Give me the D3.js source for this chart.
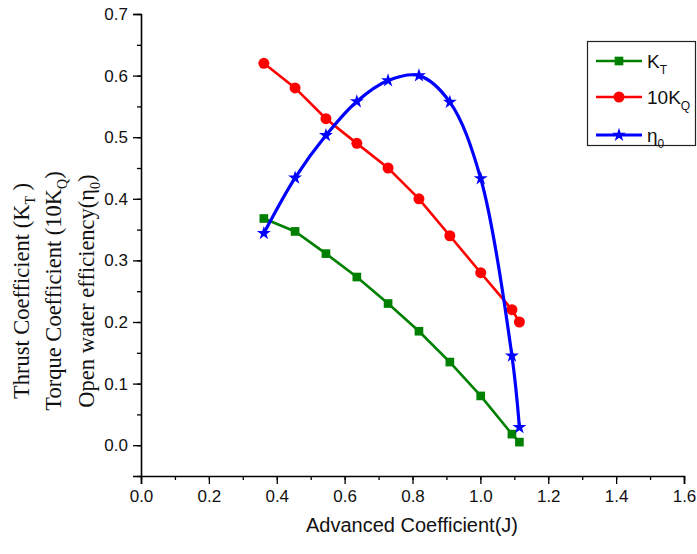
<!DOCTYPE html>
<html><head><meta charset="utf-8">
<script src="https://cdn.jsdelivr.net/npm/d3@7"></script>
<style>
body{margin:0;background:#fff;}
svg{display:block;}
</style></head>
<body>
<svg id="c" width="697" height="554"></svg>
<script>
const J      = [0.362, 0.454, 0.545, 0.636, 0.728, 0.819, 0.910, 1.001, 1.093, 1.115];
const KT     = [0.368, 0.347, 0.311, 0.273, 0.230, 0.185, 0.135, 0.080, 0.018, 0.005];
const KQ10   = [0.620, 0.580, 0.530, 0.490, 0.450, 0.400, 0.340, 0.280, 0.220, 0.200];
const ETA0   = [0.344, 0.434, 0.503, 0.558, 0.592, 0.600, 0.557, 0.433, 0.145, 0.029];
const xTicks = [0.0, 0.2, 0.4, 0.6, 0.8, 1.0, 1.2, 1.4, 1.6];
const yTicks = [0.0, 0.1, 0.2, 0.3, 0.4, 0.5, 0.6, 0.7];

const svg = d3.select("#c");
const x = d3.scaleLinear().domain([0, 1.6]).range([141, 684]);
const y = d3.scaleLinear().domain([-0.05, 0.7]).range([476, 14]);

// axes
const xMinor = d3.range(0, 1.601, 0.1);
const yMinor = d3.range(-0.05, 0.701, 0.05);
const gx = svg.append("g").attr("transform", `translate(0,${y(-0.05)})`);
gx.call(d3.axisBottom(x).tickValues(xMinor).tickSize(4).tickFormat(""));
gx.call(g => g.selectAll(".tick line").attr("stroke-width", 1.3));
const gx2 = svg.append("g").attr("transform", `translate(0,${y(-0.05)})`);
gx2.call(d3.axisBottom(x).tickValues(xTicks).tickSize(8).tickPadding(6).tickFormat(d3.format(".1f")));
gx2.select(".domain").attr("stroke-width", 1.6);
gx2.selectAll(".tick line").attr("stroke-width", 1.3);
gx2.selectAll("text").attr("font-family", "Arial, 'Liberation Sans', sans-serif").attr("font-size", 17).attr("fill", "#111");

const gy = svg.append("g").attr("transform", `translate(${x(0)},0)`);
gy.call(d3.axisLeft(y).tickValues(yMinor).tickSize(4).tickFormat(""));
gy.selectAll(".tick line").attr("stroke-width", 1.3);
const gy2 = svg.append("g").attr("transform", `translate(${x(0)},0)`);
gy2.call(d3.axisLeft(y).tickValues(yTicks).tickSize(8).tickPadding(5).tickFormat(d3.format(".1f")));
gy2.select(".domain").attr("stroke-width", 1.6);
gy2.selectAll(".tick line").attr("stroke-width", 1.3);
gy2.selectAll("text").attr("font-family", "Arial, 'Liberation Sans', sans-serif").attr("font-size", 17).attr("fill", "#111");
svg.selectAll(".domain").attr("stroke", "#000");

// axis titles
svg.append("text").attr("x", 412).attr("y", 532).attr("text-anchor", "middle")
  .attr("font-family", "Arial, 'Liberation Sans', sans-serif").attr("font-size", 20).attr("fill", "#111")
  .text("Advanced Coefficient(J)");

const yLabels = [
  {bx: 29, parts: [["Thrust Coefficient (K", 0], ["T", 1], [" )", 0]]},
  {bx: 61, parts: [["Torque Coefficient (10K", 0], ["Q", 1], [")", 0]]},
  {bx: 94, parts: [["Open water efficiency(η", 0], ["0", 1], [")", 0]]}
];
yLabels.forEach(l => {
  const t = svg.append("text").attr("transform", `translate(${l.bx},291) rotate(-90)`)
    .attr("text-anchor", "middle").attr("font-family", "'Times New Roman', 'Liberation Serif', serif")
    .attr("font-size", 22.5).attr("fill", "#111");
  let prev = 0;
  l.parts.forEach(p => {
    const s = t.append("tspan").text(p[0]);
    if (p[1] !== prev) s.attr("dy", p[1] ? 6 : -6);
    if (p[1]) s.attr("font-size", 14);
    prev = p[1];
  });
});

// series
const series = [
  {name: "KT", vals: KT, color: "#008000", sym: d3.symbolSquare, size: 75, curve: d3.curveLinear, w: 2.6},
  {name: "KQ", vals: KQ10, color: "#ff0000", sym: d3.symbolCircle, size: 95, curve: d3.curveLinear, w: 2.6},
  {name: "ETA", vals: ETA0, color: "#0000ff", sym: d3.symbolStar, size: 60, curve: d3.curveCatmullRom.alpha(0.5), w: 3.2}
];
series.forEach(s => {
  const pts = J.map((j, i) => [j, s.vals[i]]);
  svg.append("path").datum(pts)
    .attr("d", d3.line().x(d => x(d[0])).y(d => y(d[1])).curve(s.curve))
    .attr("fill", "none").attr("stroke", s.color).attr("stroke-width", s.w);
  svg.append("g").selectAll("path").data(pts).join("path")
    .attr("transform", d => `translate(${x(d[0])},${y(d[1])})`)
    .attr("d", d3.symbol().type(s.sym).size(s.size)).attr("fill", s.color);
});

// legend
const lg = svg.append("g");
lg.append("rect").attr("x", 587.5).attr("y", 41.5).attr("width", 108).attr("height", 104)
  .attr("fill", "#fff").attr("stroke", "#222").attr("stroke-width", 1.2);
const legItems = [
  {s: series[0], y: 61, main: "K", sub: "T"},
  {s: series[1], y: 97, main: "10K", sub: "Q"},
  {s: series[2], y: 135, main: "η", sub: "0"}
];
legItems.forEach(it => {
  lg.append("line").attr("x1", 596).attr("x2", 642).attr("y1", it.y).attr("y2", it.y)
    .attr("stroke", it.s.color).attr("stroke-width", it.s.w);
  lg.append("path").attr("transform", `translate(619,${it.y})`)
    .attr("d", d3.symbol().type(it.s.sym).size(it.s.size)).attr("fill", it.s.color);
  const t = lg.append("text").attr("x", 647).attr("y", it.y + 7)
    .attr("font-family", "Arial, 'Liberation Sans', sans-serif").attr("font-size", 19).attr("fill", "#111");
  t.append("tspan").text(it.main);
  t.append("tspan").attr("dy", 6).attr("font-size", 12).text(it.sub);
});
</script>
</body></html>
